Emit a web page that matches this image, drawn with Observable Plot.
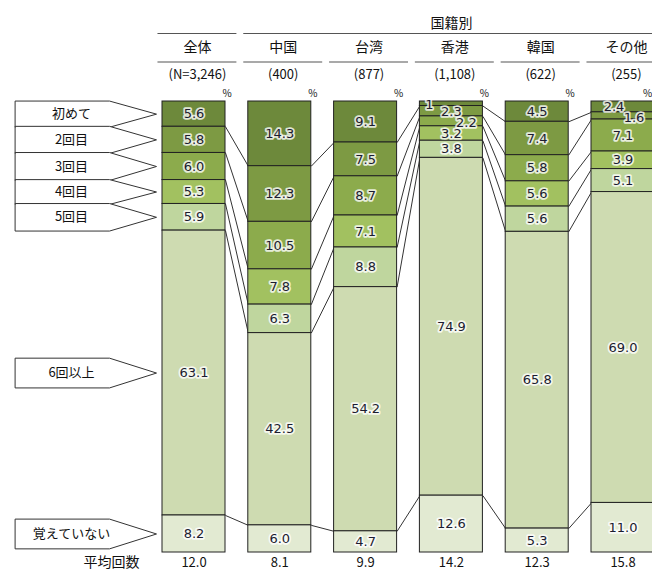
<!DOCTYPE html>
<html><head><meta charset="utf-8">
<script src="https://cdn.jsdelivr.net/npm/d3@7"></script>
<script src="https://cdn.jsdelivr.net/npm/@observablehq/plot@0.6"></script>
<style>
html,body{margin:0;padding:0;background:#fff;}
#chart svg{display:block;}
</style>
</head><body><div id="chart"></div>
<script>
// ---- data ----
const groupHeader = "国籍別";
const columns = ["全体", "中国", "台湾", "香港", "韓国", "その他"];
const sampleSizes = ["(N=3,246)", "(400)", "(877)", "(1,108)", "(622)", "(255)"];
const categories = ["初めて", "2回目", "3回目", "4回目", "5回目", "6回以上", "覚えていない"];
const zentai   = [5.6, 5.8, 6.0, 5.3, 5.9, 63.1, 8.2];
const china    = [14.3, 12.3, 10.5, 7.8, 6.3, 42.5, 6.0];
const taiwan   = [9.1, 7.5, 8.7, 7.1, 8.8, 54.2, 4.7];
const hongkong = [1.0, 2.3, 2.2, 3.2, 3.8, 74.9, 12.6];
const korea    = [4.5, 7.4, 5.8, 5.6, 5.6, 65.8, 5.3];
const other    = [2.4, 1.6, 7.1, 3.9, 5.1, 69.0, 11.0];
const avgLabel = "平均回数";
const averages = [12.0, 8.1, 9.9, 14.2, 12.3, 15.8];
const percentSign = "%";

// ---- styles / layout ----
const colors = ["#6d893b", "#7d9a43", "#8cab4c", "#a2c160", "#bfd69e", "#cedbb1", "#e2ead2"];
const W = 652, H = 572;
const center0 = 193.5, pitch = 85.8, barW = 63;
const px = p => (p - center0) / pitch;          // pixel -> x units
const yS = Plot.scale({y: {domain: [0, 100], range: [101, 552]}});
const py = p => yS.invert(p);                    // pixel -> y units
const half = barW / 2 / pitch;
const cellL = -0.42, cellR = 0.5;
const numFont = "DejaVu Sans, sans-serif";
const jpFont = "'Noto Sans CJK JP', sans-serif";
// special label placements (pixel nudges)
const labelNudge = {
  "香港|初めて": {dx: -22, dy: 1, text: "1"},
  "香港|2回目": {dx: 0, dy: 1},
  "香港|3回目": {dx: 15, dy: 1},
  "その他|初めて": {dx: -9, dy: 0},
  "その他|2回目": {dx: 11, dy: 2}
};

// ---- build tables ----
const series = [zentai, china, taiwan, hongkong, korea, other];
const segs = [];
const cums = [];
series.forEach((vals, i) => {
  const tot = d3.sum(vals);
  let c = 0;
  const cum = [0];
  vals.forEach((v, k) => {
    const y1 = c / tot * 100; c += v; const y2 = c / tot * 100;
    cum.push(y2);
    segs.push({col: i, colName: columns[i], cat: categories[k], k, v, y1, y2});
  });
  cums.push(cum);
});
const links = [];
for (let i = 0; i < series.length - 1; i++) {
  for (let j = 1; j < categories.length; j++) {
    links.push({x1: i + half, y1: cums[i][j], x2: i + 1 - half, y2: cums[i + 1][j]});
  }
}
// left arrow labels, aligned with the first column's segments
const arrowL = px(15), arrowS = px(109), arrowT = px(156);
const arrows = [];
segs.filter(d => d.col === 0).forEach(d => {
  const c = (d.y1 + d.y2) / 2;
  const hh = Math.min(d.v / 2 + 0.1, 3.3);
  [[arrowL, c - hh], [arrowS, c - hh], [arrowT, c], [arrowS, c + hh], [arrowL, c + hh]]
    .forEach(([x, y]) => arrows.push({cat: d.cat, x, y}));
});
const arrowLabels = segs.filter(d => d.col === 0).map(d => ({cat: d.cat, y: (d.y1 + d.y2) / 2}));

const key = d => d.colName + "|" + d.cat;
const plainSegs = segs.filter(d => !labelNudge[key(d)]);
const nudged = segs.filter(d => labelNudge[key(d)]);

const halo = {stroke: "white", strokeWidth: 3.5, strokeOpacity: 0.8};
const colIdx = columns.map((c, i) => ({c, i}));

const marks = [
  // header rules
  Plot.ruleY([py(33)], {x1: cellL, x2: cellR, stroke: "#555", strokeWidth: 1.2}),
  Plot.ruleY([py(33)], {x1: 1 + cellL, x2: px(W), stroke: "#555", strokeWidth: 1.2}),
  Plot.ruleY(colIdx, {y: () => py(61.5), x1: d => d.i + cellL, x2: d => Math.min(d.i + cellR, px(W)), stroke: "#555", strokeWidth: 1.2}),
  Plot.text([groupHeader], {x: 3, y: py(23), text: d => d, fontSize: 14, fontFamily: jpFont, fill: "#111"}),
  Plot.text(colIdx, {x: d => d.i + 0.04, y: py(47.5), text: d => d.c, fontSize: 14, fontFamily: jpFont, fill: "#111"}),
  Plot.text(colIdx, {x: d => d.i + 0.04, y: py(74), text: d => sampleSizes[d.i], fontSize: 13, fontFamily: jpFont, fill: "#111"}),
  Plot.text(colIdx, {x: d => Math.min(d.i + half + px(center0 + 1.5), px(W - 5)), y: py(93), text: () => percentSign, fontSize: 10, fontFamily: jpFont, fill: "#111"}),
  // connectors
  Plot.link(links, {x1: "x1", y1: "y1", x2: "x2", y2: "y2", stroke: "#333", strokeWidth: 1}),
  // bars
  Plot.rect(segs, {x1: d => d.col - half, x2: d => d.col + half, y1: "y1", y2: "y2",
    fill: d => colors[d.k], stroke: "#222", strokeWidth: 1}),
  // arrows
  Plot.line(arrows, {x: "x", y: "y", z: "cat", curve: "linear-closed", fill: "white", stroke: "#333", strokeWidth: 1}),
  Plot.text(arrowLabels, {x: px(71), y: "y", text: "cat", fontSize: 13, fontFamily: jpFont, fill: "#111"}),
  // values
  Plot.text(plainSegs, {x: "col", y: d => (d.y1 + d.y2) / 2, text: d => d.v.toFixed(1),
    fontSize: 13, fontFamily: numFont, fill: "#1c1c30", ...halo}),
  ...nudged.map(d => {
    const n = labelNudge[key(d)];
    return Plot.text([d], {x: "col", y: d => (d.y1 + d.y2) / 2, text: () => n.text ?? d.v.toFixed(1),
      dx: n.dx, dy: n.dy, fontSize: 13, fontFamily: numFont, fill: "#1c1c30", ...halo});
  }),
  // averages
  Plot.text([avgLabel], {x: px(111), y: py(562), text: d => d, fontSize: 14, fontFamily: jpFont, fill: "#111"}),
  Plot.text(averages, {x: (d, i) => i, y: py(562), text: d => d.toFixed(1), fontSize: 13, fontFamily: jpFont, fill: "#111"})
];

const chart = Plot.plot({
  width: W, height: H,
  marginTop: 0, marginBottom: 0, marginLeft: 0, marginRight: 0,
  x: {type: "linear", domain: [px(0), px(W)], range: [0, W], axis: null},
  y: {type: "linear", domain: [0, 100], range: [101, 552], axis: null},
  style: {background: "white", overflow: "visible"},
  marks
});
document.getElementById("chart").append(chart);
</script>
</body></html>
